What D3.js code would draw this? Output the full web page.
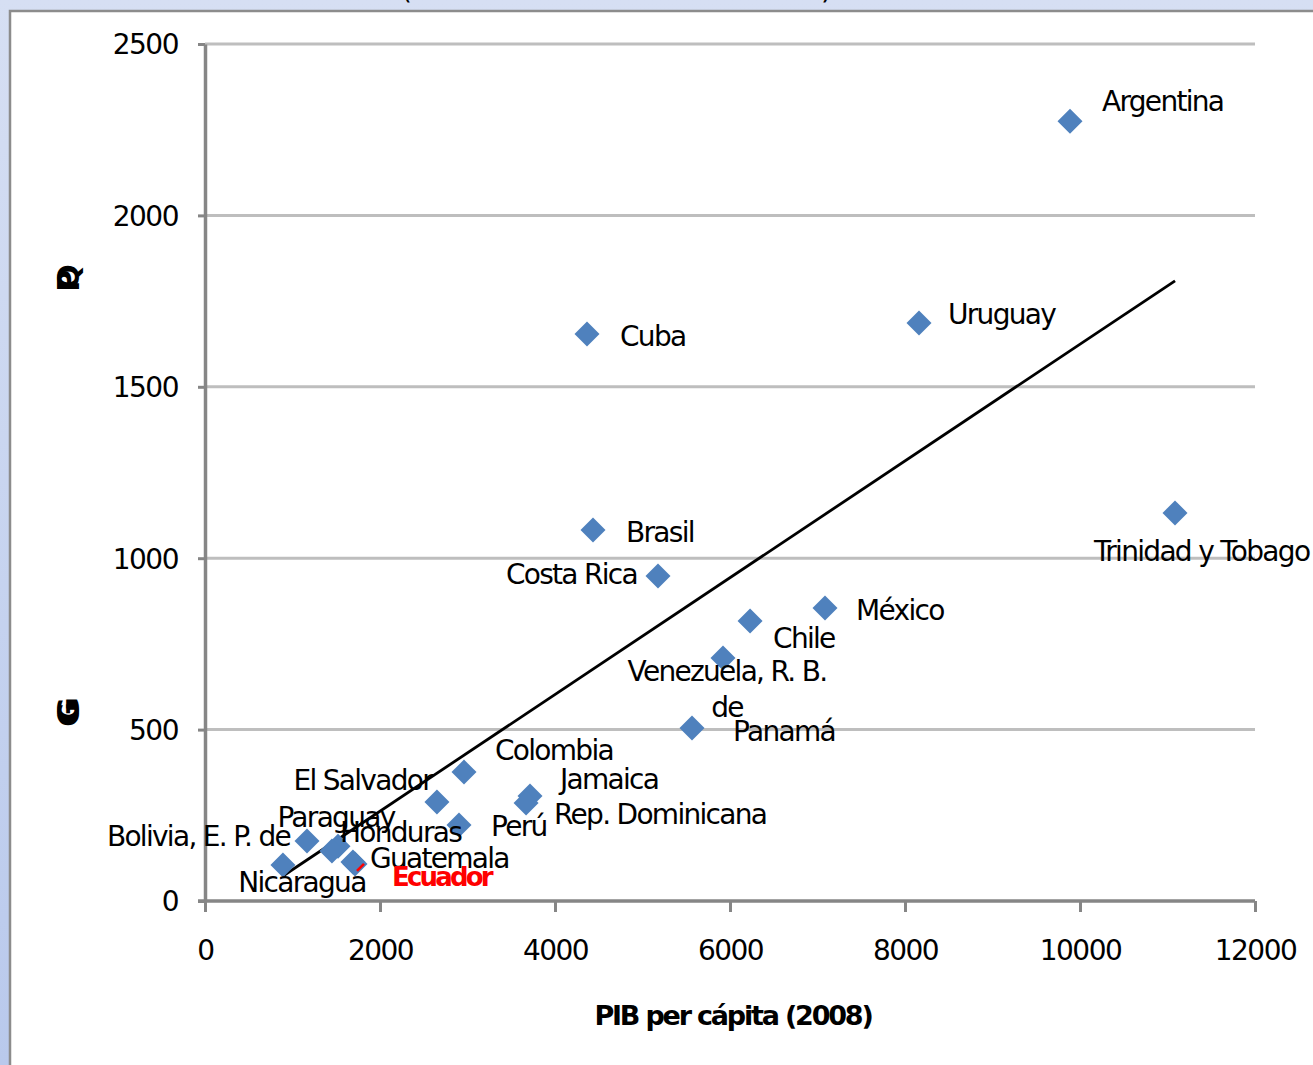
<!DOCTYPE html>
<html><head><meta charset="utf-8">
<script src="https://cdn.jsdelivr.net/npm/d3@7"></script>
<style>html,body{margin:0;padding:0;overflow:hidden;background:#fff}</style>
</head><body>
<svg id="c" width="1313" height="1065"></svg>
<script>
// ---- data ----
const countries = ["Argentina","Uruguay","Cuba","Brasil","Costa Rica","Trinidad y Tobago","México","Chile","Venezuela, R. B.|de","Panamá","Colombia","El Salvador","Jamaica","Rep. Dominicana","Perú","Paraguay","Bolivia, E. P. de","Honduras","Guatemala","Ecuador","Nicaragua"];
const gdpPerCapita = [9886,8160,4366,4434,5177,11086,7086,6229,5920,5566,2960,2651,3714,3669,2903,1520,1166,1451,1691,1714,891];
const yValues = [2275,1686,1654,1082,948,1132,855,817,709,505,376,289,306,286,222,160,175,146,114,108,105];
const xTicks = [0,2000,4000,6000,8000,10000,12000];
const yTicks = [0,500,1000,1500,2000,2500];
const trendX = [891,11086];
const trendIntercept = -78.7, trendSlope = 0.1703;
const xTitle = "PIB per cápita (2008)";

// ---- label layout (offsets from marker, px) ----
const labelLayout = [
 [32,-20,"start"],[29,-9,"start"],[33,2,"start"],[33,2,"start"],[-21,-2,"end"],
 [-81,38,"start"],[31,2,"start"],[23,17,"start"],[4,13,"middle"],[41,3,"start"],
 [31,-22,"start"],[-5,-22,"end"],[30,-17,"start"],[28,11,"start"],[32,1,"start"],
 [-2,-29,"middle"],[-17,-5,"end"],[8,-19,"start"],[17,-4,"start"],[37,13,"start"],[19,17,"middle"]
];

const svg = d3.select("#c");
const defs = svg.append("defs");
const g1 = defs.append("linearGradient").attr("id","bg").attr("x1","0").attr("x2","0").attr("y1","0").attr("y2","1");
g1.append("stop").attr("offset","0").attr("stop-color","#D6DFF3");
g1.append("stop").attr("offset","1").attr("stop-color","#B9C9EC");
svg.append("rect").attr("width",1313).attr("height",1065).attr("fill","url(#bg)");
svg.append("rect").attr("x",10).attr("y",11).attr("width",1320).attr("height",1070)
  .attr("fill","#fff").attr("stroke","#8C8C8C").attr("stroke-width",2.5);
// cropped title remnant
svg.append("text").attr("x",401).attr("y",-1).attr("font-family","DejaVu Sans").attr("font-size",28).text("(");
svg.append("text").attr("x",821).attr("y",-1).attr("font-family","DejaVu Sans").attr("font-size",28).text(")");

const x = d3.scaleLinear().domain([0,12000]).range([205,1255]);
const y = d3.scaleLinear().domain([0,2500]).range([901,44]);
const font = "DejaVu Sans";

svg.append("g").selectAll("line").data(yTicks.filter(d=>d>0)).join("line")
  .attr("x1",x(0)).attr("x2",x(12000)).attr("y1",d=>y(d)).attr("y2",d=>y(d))
  .attr("stroke","#BEBEBE").attr("stroke-width",3);

const fmt = d3.format("d");
const xAxis = svg.append("g").attr("transform",`translate(0,${y(0)})`)
  .call(d3.axisBottom(x).tickValues(xTicks).tickFormat(fmt).tickSize(11).tickSizeOuter(0).tickPadding(28));
const yAxis = svg.append("g").attr("transform",`translate(${x(0)},0)`)
  .call(d3.axisLeft(y).tickValues(yTicks).tickFormat(fmt).tickSize(7).tickSizeOuter(0).tickPadding(20));
[xAxis,yAxis].forEach(a=>{
  a.select(".domain").attr("stroke","#868686").attr("stroke-width",3.5);
  a.selectAll(".tick line").attr("stroke","#868686").attr("stroke-width",3);
  a.selectAll("text").attr("font-family",font).attr("font-size",28).attr("letter-spacing","-1.5px").attr("fill","#000");
});
xAxis.select(".domain").attr("d",`M${x(0)-7},0H${x(12000)}`);
xAxis.selectAll(".tick text").attr("dy","0.71em");
yAxis.selectAll(".tick text").attr("dy","0.35em");

svg.append("text").attr("x",733).attr("y",1025).attr("text-anchor","middle")
  .attr("font-family",font).attr("font-weight","bold").attr("font-size",27).attr("letter-spacing","-2.2px").text(xTitle);
// garbled y title remnants
[[288,"PQ"],[722,"GG"]].forEach(([cy,t])=>{
  svg.append("text").attr("transform",`translate(79,${cy}) rotate(-90)`).attr("text-anchor","middle")
    .attr("font-family",font).attr("font-weight","bold").attr("font-size",30).attr("letter-spacing","-20px").text(t);
});

svg.append("line").attr("x1",x(trendX[0])).attr("y1",y(trendIntercept+trendSlope*trendX[0]))
  .attr("x2",x(trendX[1])).attr("y2",y(trendIntercept+trendSlope*trendX[1]))
  .attr("stroke","#000").attr("stroke-width",2.8);

const pts = countries.map((c,i)=>({c,gx:gdpPerCapita[i],gy:yValues[i],L:labelLayout[i]}));
const r = 12.5;
svg.append("g").selectAll("path").data(pts).join("path")
  .attr("d",d=>{const cx=x(d.gx),cy=y(d.gy);return `M${cx},${cy-r}L${cx+r},${cy}L${cx},${cy+r}L${cx-r},${cy}Z`;})
  .attr("fill","#4F81BD");

const ec = pts.find(d=>d.c==="Ecuador");
svg.append("line").attr("x1",x(ec.gx)+2).attr("y1",y(ec.gy)+7).attr("x2",x(ec.gx)+9).attr("y2",y(ec.gy)+0)
  .attr("stroke","#FF0000").attr("stroke-width",2.5);

const lab = svg.append("g");
pts.forEach(d=>{
  const t = lab.append("text").attr("x",x(d.gx)+d.L[0]).attr("y",y(d.gy)+d.L[1])
    .attr("text-anchor",d.L[2]).attr("font-family",font).attr("font-size",28)
    .attr("letter-spacing","-1.7px");
  if(d.c==="Ecuador"){t.attr("fill","#FF0000").attr("font-weight","bold").attr("font-size",26).attr("letter-spacing","-2.8px");}
  const parts = d.c.split("|");
  parts.forEach((p,i)=>{t.append("tspan").attr("x",x(d.gx)+d.L[0]).attr("dy",i===0?"0.35em":"1.3em").text(p);});
});
</script>
</body></html>
